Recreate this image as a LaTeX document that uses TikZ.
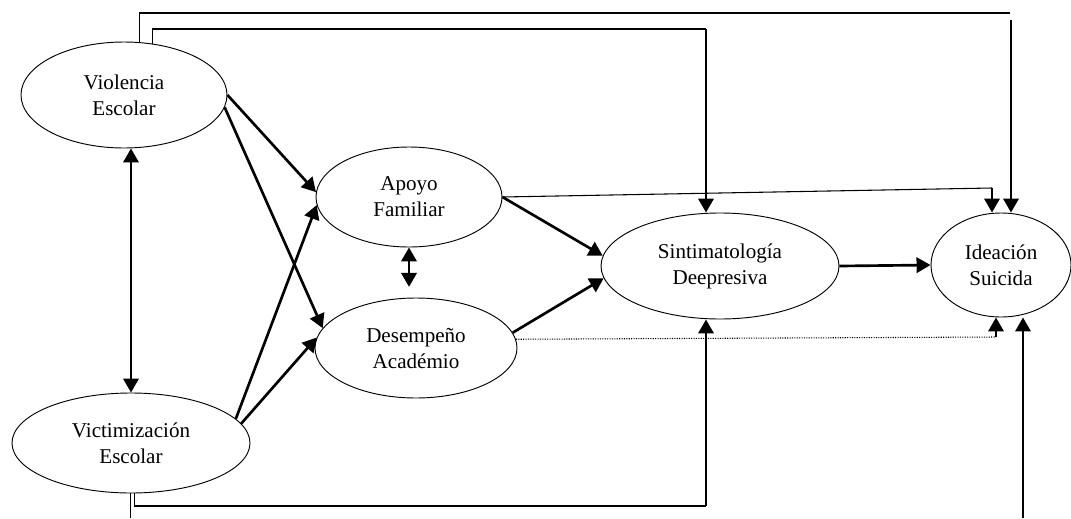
\documentclass[tikz,border=0pt]{standalone}
\usepackage{fontspec}
\setmainfont{Liberation Serif}
\usetikzlibrary{shapes.geometric,arrows.meta}

\tikzset{
  var/.style={draw, ellipse, line width=0.7pt, inner sep=0pt, align=center,
    font=\fontsize{15.8}{19.5}\selectfont},
  efecto/.style={line width=2pt, -{Triangle[length=10.5pt,width=11.5pt]}},
  doble/.style={line width=2pt, {Triangle[length=10.5pt,width=11.5pt]}-{Triangle[length=10.5pt,width=11.5pt]}},
  linea/.style={line width=0.8pt},
}

\begin{document}
\begin{tikzpicture}[x=0.75pt,y=-0.75pt]
        \useasboundingbox (0,0) rectangle (1071,518);
        \node[var, minimum width=154.5pt, minimum height=79.5pt] (viol) at (124,95) {Violencia\\Escolar};
        \node[var, minimum width=178.5pt, minimum height=75pt] (vict) at (131,443) {Victimización\\Escolar};
        \node[var, minimum width=139.5pt, minimum height=75pt] (apoyo) at (409,197) {Apoyo\\Familiar};
        \node[var, minimum width=151.5pt, minimum height=75pt] (desemp) at (416,348) {Desempeño\\Académio};
        \node[var, minimum width=178.5pt, minimum height=79.5pt] (sint) at (720,266) {Sintimatología\\Deepresiva};
        \node[var, minimum width=105pt, minimum height=78pt] (idea) at (1001,265) {Ideación\\Suicida};
        \coordinate (arr1) at (1010,13);
        \coordinate (arr2) at (1011,20);
        \coordinate (arr3) at (706,29);
        \coordinate (fam) at (992,188);
        \coordinate (aca) at (996,337);
        \coordinate (ab1) at (706,506);
        \coordinate (ab2) at (129,518);
        \coordinate (ab3) at (1023,518);
        \draw[efecto] (viol.east) -- (apoyo.177);
        \draw[efecto] (viol.-7) -- (desemp.168);
        \draw[efecto] (vict.13) -- (apoyo.185);
        \draw[efecto] (vict.10) -- (desemp.174);
        \draw[doble] (vict.north) -- (vict.north |- viol.south);
        \draw[doble, shorten >=8pt] (apoyo.south) -- (apoyo.south |- desemp.north);
        \draw[efecto] (apoyo.east) -- (sint.175);
        \draw[efecto] (desemp.9) -- (sint.186);
        \draw[efecto] (sint.east) -- (idea.west);
        \draw[linea] (apoyo.east) -- (fam);
        \draw[efecto] (fam) -- (fam |- idea.north);
        \draw[linea, densely dotted] (desemp.5) -- (aca);
        \draw[efecto] (aca) -- (aca |- idea.south);
        % lineas de arriba y de abajo
        \draw[linea] (viol.74) |- (arr1);
        \draw[efecto] (arr2) -- (arr2 |- idea.north);
        \draw[linea] (viol.61) |- (arr3);
        \draw[efecto] (arr3) -- (arr3 |- sint.north);
        \draw[linea] (vict.-86) |- (ab1);
        \draw[efecto] (ab1) -- (ab1 |- sint.south);
        \draw[linea] (vict.-91) -- (vict.-91 |- ab2);
        \draw[efecto] (ab3) -- (ab3 |- idea.south);
\end{tikzpicture}
\end{document}
